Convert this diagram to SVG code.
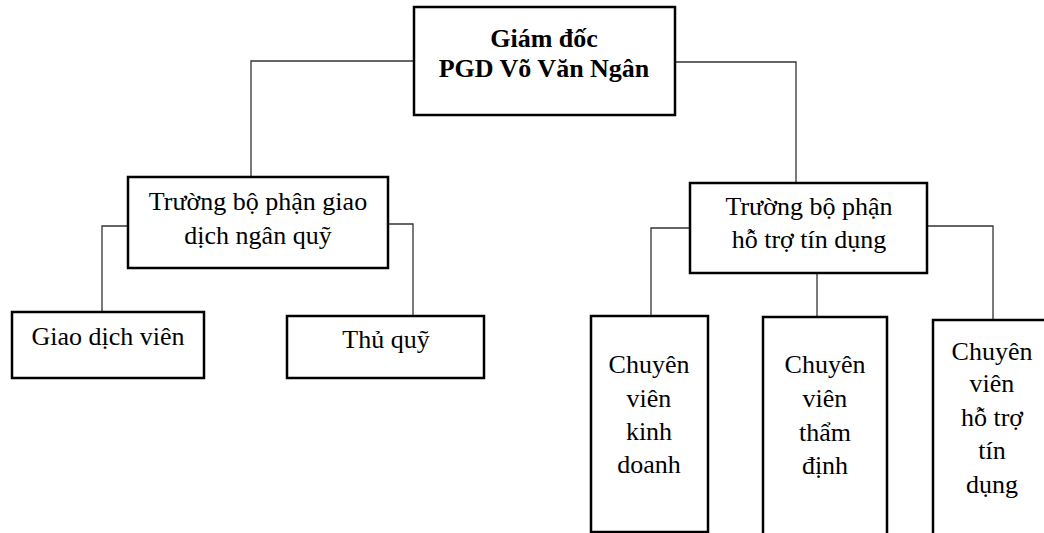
<svg xmlns="http://www.w3.org/2000/svg" width="1044" height="533" viewBox="0 0 1044 533">
<style>
.box{fill:#fff;stroke:#000;stroke-width:2.5}
.con{fill:none;stroke:#333;stroke-width:1.3}
text{font-family:"Liberation Serif","Times New Roman",serif;font-size:26px;fill:#000;text-anchor:middle}
.b{font-weight:bold}
</style>
<rect width="1044" height="533" fill="#fff"/>
<g id="connectors">
<polyline class="con" points="414,61 251,61 251,177"/>
<polyline class="con" points="675,62 796,62 796,183"/>
<polyline class="con" points="128,226 102,226 102,312"/>
<polyline class="con" points="388,224 413,224 413,316"/>
<polyline class="con" points="690,228 651,228 651,316"/>
<polyline class="con" points="817,273 817,317"/>
<polyline class="con" points="927,226 993,226 993,320"/>
</g>
<g id="giam-doc">
<rect class="box" x="414" y="7" width="261" height="108"/>
<text class="b" x="544" y="47">Giám đốc</text>
<text class="b" x="544" y="77">PGD Võ Văn Ngân</text>
</g>
<g id="truong-giao-dich">
<rect class="box" x="128" y="177" width="260" height="91"/>
<text x="258" y="210">Trường bộ phận giao</text>
<text x="258" y="244">dịch ngân quỹ</text>
</g>
<g id="truong-ho-tro">
<rect class="box" x="690" y="183" width="237" height="90"/>
<text x="809" y="215">Trường bộ phận</text>
<text x="809" y="248">hỗ trợ tín dụng</text>
</g>
<g id="giao-dich-vien">
<rect class="box" x="12" y="312" width="192" height="66"/>
<text x="108" y="345">Giao dịch viên</text>
</g>
<g id="thu-quy">
<rect class="box" x="287" y="316" width="197" height="62"/>
<text x="386" y="348">Thủ quỹ</text>
</g>
<g id="cv-kinh-doanh">
<rect class="box" x="591" y="316" width="117" height="216"/>
<text x="649" y="373">Chuyên</text>
<text x="649" y="407">viên</text>
<text x="649" y="440">kinh</text>
<text x="649" y="473">doanh</text>
</g>
<g id="cv-tham-dinh">
<rect class="box" x="763" y="317" width="124" height="222"/>
<text x="825" y="373">Chuyên</text>
<text x="825" y="407">viên</text>
<text x="825" y="441">thẩm</text>
<text x="825" y="474">định</text>
</g>
<g id="cv-ho-tro">
<rect class="box" x="933" y="320" width="124" height="222"/>
<text x="992" y="360">Chuyên</text>
<text x="992" y="392">viên</text>
<text x="992" y="426">hỗ trợ</text>
<text x="992" y="459">tín</text>
<text x="992" y="493">dụng</text>
</g>
</svg>
